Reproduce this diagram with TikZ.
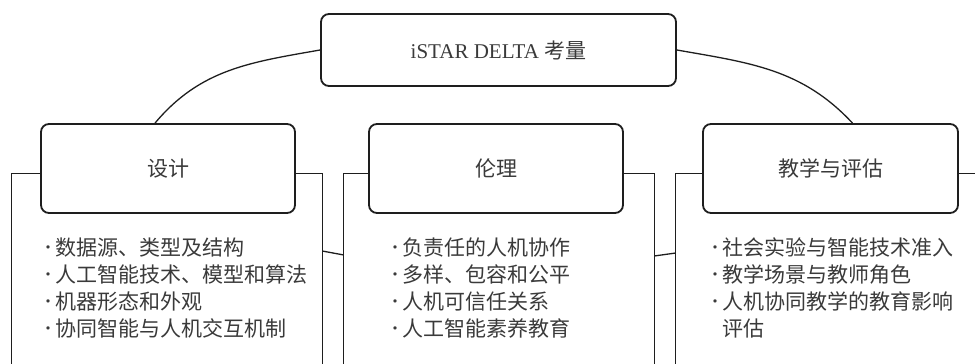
\documentclass[tikz,border=0pt]{standalone}
\usepackage{fontspec}
\setmainfont{Liberation Serif}
\newfontfamily\cjk{Noto Sans CJK SC}
\definecolor{linec}{HTML}{1E1E1E}
\definecolor{textc}{HTML}{3A3A3A}
\newcommand\bul{\makebox[14pt][l]{\hspace*{-1pt}\raisebox{2.5pt}{\fontsize{16pt}{16pt}\selectfont •}}}
\newcommand\ind{\hspace*{14pt}}
\begin{document}
\begin{tikzpicture}[x=1pt,y=1pt,
  rbox/.style={draw=linec, line width=1.8pt, rounded corners=8pt, fill=white,
    inner sep=0pt, text=textc},
  headbox/.style={rbox, minimum width=254pt, minimum height=89pt,
    font=\cjk\fontsize{21pt}{27pt}\selectfont},
  container/.style={inner sep=0pt, minimum height=190pt},
  cline/.style={draw=linec, line width=1.3pt},
  itemlist/.style={anchor=north west, inner sep=0pt, align=left, text=textc,
    font=\cjk\fontsize{21pt}{27pt}\selectfont}]
\useasboundingbox (0,0) rectangle (975,364);
% containers
\node[container, minimum width=310pt] (c1) at (167,95) {};
\node[container, minimum width=310pt] (c2) at (499,95) {};
\node[container, minimum width=299pt] (c3) at (825.5,95) {};
\draw[cline] (c1.south west) -- (c1.north west) -- (c1.north east) -- (c1.south east);
\draw[cline] (c2.south west) -- (c2.north west) -- (c2.north east) -- (c2.south east);
\draw[cline] (c3.south west) -- (c3.north west) -- (c3.north east);
\draw[cline] ([yshift=18pt]c1.east) -- ([yshift=14pt]c2.west);
\draw[cline] ([yshift=13pt]c2.east) -- ([yshift=16pt]c3.west);
% top box
\node[rbox, minimum width=355pt, minimum height=72pt,
  font=\fontsize{21pt}{27pt}\selectfont] (top) at (498.5,314) {iSTAR DELTA {\cjk 考量}};
% heading boxes
\node[headbox] (design) at (168,195.5) {设计};
\node[headbox] (ethics) at (496,195.5) {伦理};
\node[headbox, minimum width=255pt] (teach) at (830.5,195.5) {教学与评估};
% arcs
\draw[cline] (top.west) to[out=190,in=50] ([xshift=-13pt]design.north);
\draw[cline] (top.east) to[out=-10,in=133] ([xshift=22pt]teach.north);
% lists
\node[itemlist] (l1) at (41,126) {\bul 数据源、类型及结构\\ \bul 人工智能技术、模型和算法\\ \bul 机器形态和外观\\ \bul 协同智能与人机交互机制};
\node[itemlist] (l2) at (388,126) {\bul 负责任的人机协作\\ \bul 多样、包容和公平\\ \bul 人机可信任关系\\ \bul 人工智能素养教育};
\node[itemlist] (l3) at (708,126) {\bul 社会实验与智能技术准入\\ \bul 教学场景与教师角色\\ \bul 人机协同教学的教育影响\\ \ind 评估};
\end{tikzpicture}
\end{document}
